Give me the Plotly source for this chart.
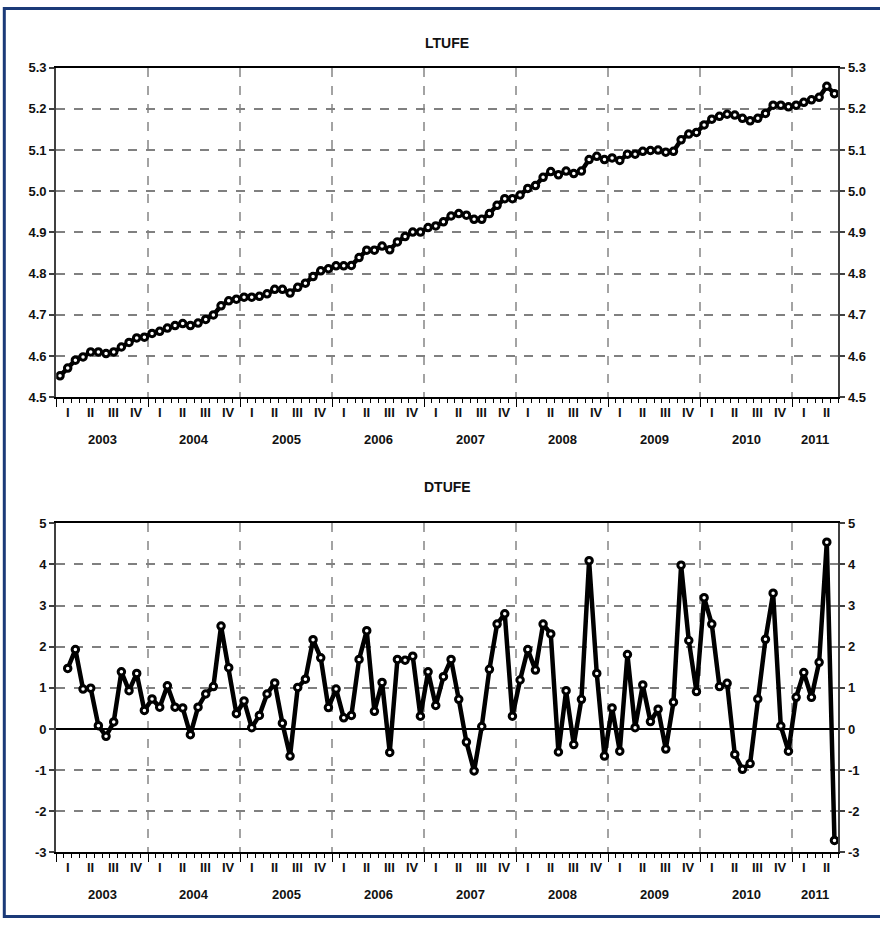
import plotly.graph_objects as go

# ---------------- data ----------------
START_YEAR = 2003
# LTUFE: monthly, Jan 2003 .. Jun 2011
ltufe = [4.552, 4.571, 4.590, 4.598, 4.610, 4.610, 4.606, 4.610, 4.622, 4.633, 4.644, 4.646,
         4.655, 4.660, 4.668, 4.674, 4.679, 4.674, 4.680, 4.689, 4.700, 4.722, 4.734, 4.738,
         4.743, 4.743, 4.745, 4.751, 4.762, 4.762, 4.753, 4.767, 4.777, 4.793, 4.807, 4.812,
         4.819, 4.819, 4.820, 4.839, 4.857, 4.857, 4.867, 4.858, 4.877, 4.890, 4.901, 4.901,
         4.912, 4.916, 4.926, 4.940, 4.946, 4.942, 4.932, 4.932, 4.946, 4.966, 4.982, 4.982,
         4.991, 5.007, 5.014, 5.034, 5.048, 5.040, 5.049, 5.043, 5.049, 5.077, 5.085, 5.077,
         5.081, 5.075, 5.090, 5.090, 5.097, 5.099, 5.100, 5.095, 5.097, 5.125, 5.139, 5.143,
         5.161, 5.175, 5.182, 5.187, 5.185, 5.177, 5.171, 5.177, 5.189, 5.209, 5.209, 5.205,
         5.209, 5.216, 5.222, 5.228, 5.255, 5.237]
# DTUFE: monthly, Feb 2003 .. Jun 2011
dtufe = [1.47, 1.93, 0.97, 0.99, 0.08, -0.18, 0.17, 1.39, 0.93, 1.35, 0.45,
         0.73, 0.53, 1.05, 0.53, 0.51, -0.14, 0.53, 0.85, 1.03, 2.50, 1.49, 0.37,
         0.68, 0.03, 0.33, 0.85, 1.12, 0.14, -0.66, 1.01, 1.21, 2.17, 1.73, 0.52,
         0.97, 0.27, 0.33, 1.69, 2.39, 0.43, 1.13, -0.57, 1.69, 1.67, 1.77, 0.31,
         1.39, 0.57, 1.27, 1.69, 0.72, -0.32, -1.02, 0.06, 1.45, 2.55, 2.80, 0.31,
         1.19, 1.93, 1.43, 2.55, 2.31, -0.56, 0.93, -0.38, 0.72, 4.09, 1.35, -0.66,
         0.51, -0.54, 1.81, 0.03, 1.07, 0.18, 0.48, -0.49, 0.65, 3.98, 2.15, 0.91,
         3.19, 2.55, 1.03, 1.11, -0.62, -0.98, -0.84, 0.73, 2.18, 3.30, 0.07, -0.54,
         0.77, 1.37, 0.77, 1.62, 4.54, -2.71]
dtufe_first_month = 1  # Feb 2003

years = [2003, 2004, 2005, 2006, 2007, 2008, 2009, 2010, 2011]
quarter_labels = ["I", "II", "III", "IV"]
ltufe_ticks = [4.5, 4.6, 4.7, 4.8, 4.9, 5.0, 5.1, 5.2, 5.3]
dtufe_ticks = [-3, -2, -1, 0, 1, 2, 3, 4, 5]
N_MONTHS = 102  # axis spans Jan 2003 .. Jun 2011

# ---------------- geometry ----------------
W, H = 880, 926
FONT = "Liberation Sans Narrow, Arial Narrow, Liberation Sans, Arial, sans-serif"
TXT = "#111111"


def px_x(v):
    return v / W


def px_y(v):
    return 1 - v / H


xdom = [px_x(56.2), px_x(838.3)]
top_dom = [px_y(396.7), px_y(61.7)]
bot_dom = [px_y(859.3), px_y(524.75)]

x_l = [i + 0.5 for i in range(len(ltufe))]
x_d = [i + dtufe_first_month + 0.5 for i in range(len(dtufe))]

line_style = dict(color="black", width=4.5)
marker_style = dict(symbol="circle", size=6.5, color="white",
                    line=dict(color="black", width=3))

fig = go.Figure()
fig.add_trace(go.Scatter(x=x_l, y=ltufe, mode="lines+markers", line=line_style,
                         marker=marker_style, xaxis="x", yaxis="y", showlegend=False))
fig.add_trace(go.Scatter(x=[None], y=[None], xaxis="x", yaxis="y3", showlegend=False))
fig.add_trace(go.Scatter(x=x_d, y=dtufe, mode="lines+markers", line=line_style,
                         marker=marker_style, xaxis="x2", yaxis="y2", showlegend=False))
fig.add_trace(go.Scatter(x=[None], y=[None], xaxis="x2", yaxis="y4", showlegend=False))

year_bounds = [(y - START_YEAR) * 12 for y in years]
tickfont = dict(family=FONT, size=13, color=TXT, weight="bold")


def xaxis_cfg(anchor):
    return dict(domain=xdom, anchor=anchor, range=[0, N_MONTHS],
                tickvals=year_bounds, ticktext=[""] * len(year_bounds),
                ticks="outside", ticklen=8, tickcolor="black", tickwidth=1,
                showline=True, linecolor="black", linewidth=1.5, mirror=True,
                showgrid=True, gridcolor="#a3a3a3", gridwidth=1.5, griddash="dash",
                zeroline=False, fixedrange=True,
                minor=dict(dtick=1, tick0=0, ticks="outside", ticklen=4,
                           tickcolor="black", tickwidth=1, showgrid=False))


def yaxis_cfg(dom, rng, tvals, fmt, anchor, side="left", overlay=None, grid=True, zero=False):
    d = dict(domain=dom, range=rng, tickvals=tvals, anchor=anchor,
             ticktext=[fmt.format(t) for t in tvals],
             ticks="outside", ticklen=5, tickcolor="#404040", tickwidth=1.5,
             showline=True, linecolor="#404040", linewidth=2,
             side=side, tickfont=tickfont, fixedrange=True,
             showgrid=grid, gridcolor="#808080", gridwidth=1.5, griddash="dash",
             zeroline=zero, zerolinecolor="black", zerolinewidth=1.5)
    if overlay:
        d["overlaying"] = overlay
    return d


fig.update_layout(
    width=W, height=H,
    margin=dict(l=0, r=0, t=0, b=0),
    paper_bgcolor="white", plot_bgcolor="white",
    xaxis=xaxis_cfg("y"),
    xaxis2=xaxis_cfg("y2"),
    yaxis=yaxis_cfg(top_dom, [4.5, 5.3], ltufe_ticks, "{:.1f}", "x"),
    yaxis3=yaxis_cfg(top_dom, [4.5, 5.3], ltufe_ticks, "{:.1f}", "x", side="right",
                     overlay="y", grid=False),
    yaxis2=yaxis_cfg(bot_dom, [-3, 5], dtufe_ticks, "{:d}", "x2", zero=True),
    yaxis4=yaxis_cfg(bot_dom, [-3, 5], dtufe_ticks, "{:d}", "x2", side="right",
                     overlay="y2", grid=False),
)

annots = []
labfont = dict(family=FONT, size=13, color=TXT, weight="bold")
titlefont = dict(family=FONT, size=14, color=TXT, weight="bold")


def add_period_labels(xref, axis_px):
    for y in years:
        base = (y - START_YEAR) * 12
        nq = 4 if y < 2011 else 2
        for q in range(nq):
            annots.append(dict(x=base + q * 3 + 1.5, y=px_y(axis_px + 15), xref=xref,
                               yref="paper", text=quarter_labels[q], showarrow=False,
                               font=labfont, xanchor="center", yanchor="middle"))
        annots.append(dict(x=base + nq * 1.5, y=px_y(axis_px + 43), xref=xref,
                           yref="paper", text=str(y), showarrow=False,
                           font=labfont, xanchor="center", yanchor="middle"))


add_period_labels("x", 396.7)
add_period_labels("x2", 859.3)

annots.append(dict(x=(xdom[0] + xdom[1]) / 2, y=px_y(37), xref="paper", yref="paper",
                   text="LTUFE", showarrow=False, font=titlefont,
                   xanchor="center", yanchor="middle"))
annots.append(dict(x=(xdom[0] + xdom[1]) / 2, y=px_y(488), xref="paper", yref="paper",
                   text="DTUFE", showarrow=False, font=titlefont,
                   xanchor="center", yanchor="middle"))
fig.update_layout(annotations=annots)

# navy frame (top, left, bottom)
fig.add_shape(type="rect", xref="paper", yref="paper",
              x0=px_x(4.3), x1=1.05, y0=px_y(924.5), y1=px_y(1.5),
              line=dict(color="#1B3A78", width=3), layer="above")

fig.write_html("out.html", config={"displayModeBar": False},
               post_script="document.body.style.margin='0';"
                           "document.body.style.overflow='hidden';")
